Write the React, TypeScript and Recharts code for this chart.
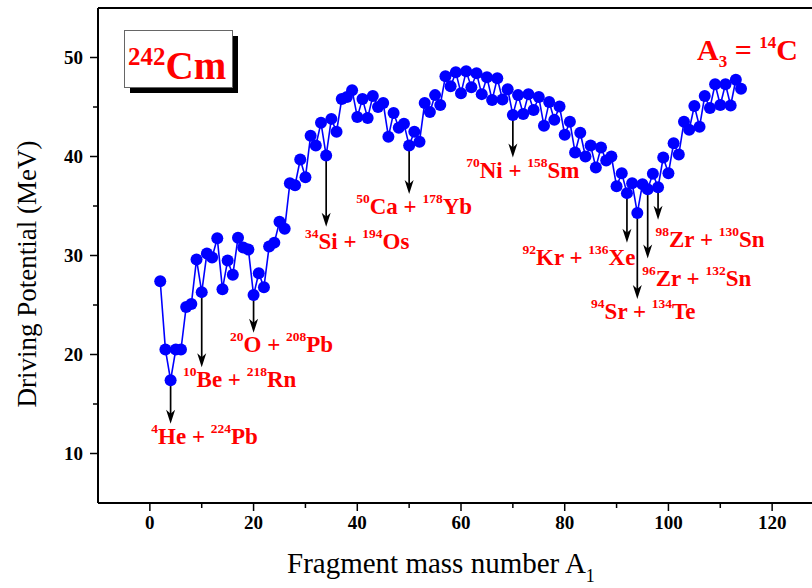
import { LineChart, Line, XAxis, YAxis, ReferenceLine } from 'recharts';

const SERIF = "'Liberation Serif', 'Times New Roman', serif";
const RED = '#ff0000';
const BLUE = '#0000ff';

// fragment mass number A1
const FRAGMENT_A = [
  2, 3, 4, 5, 6, 7, 8, 9, 10, 11, 12, 13, 14, 15, 16, 17, 18, 19, 20, 21,
  22, 23, 24, 25, 26, 27, 28, 29, 30, 31, 32, 33, 34, 35, 36, 37, 38, 39, 40, 41,
  42, 43, 44, 45, 46, 47, 48, 49, 50, 51, 52, 53, 54, 55, 56, 57, 58, 59, 60, 61,
  62, 63, 64, 65, 66, 67, 68, 69, 70, 71, 72, 73, 74, 75, 76, 77, 78, 79, 80, 81,
  82, 83, 84, 85, 86, 87, 88, 89, 90, 91, 92, 93, 94, 95, 96, 97, 98, 99, 100, 101,
  102, 103, 104, 105, 106, 107, 108, 109, 110, 111, 112, 113, 114,
];

// driving potential, MeV
const DRIVING_POTENTIAL = [
  27.4, 20.5, 17.4, 20.5, 20.5, 24.8, 25.1, 29.6, 26.3, 30.2, 29.8, 31.75, 26.6, 29.5, 28.05, 31.8, 30.8, 30.6, 26.0, 28.2,
  26.8, 30.9, 31.3, 33.4, 32.7, 37.3, 37.1, 39.7, 37.9, 42.1, 41.1, 43.4, 40.1, 43.8, 42.5, 45.8, 46.0, 46.7, 44.0, 45.8,
  43.9, 46.1, 45.0, 45.4, 42.0, 44.4, 42.9, 43.3, 41.1, 42.5, 41.5, 45.4, 44.5, 46.2, 45.2, 48.1, 47.1, 48.5, 46.4, 48.6,
  47.0, 48.4, 46.3, 48.0, 45.7, 47.9, 45.75, 46.8, 44.2, 46.2, 44.3, 46.3, 44.7, 46.0, 43.1, 45.5, 43.7, 45.05, 42.2, 43.5,
  40.4, 42.4, 40.0, 41.1, 38.9, 40.9, 39.6, 40.0, 37.0, 38.3, 36.3, 37.3, 34.3, 37.2, 36.7, 38.25, 36.9, 39.9, 38.3, 41.35,
  40.2, 43.5, 42.7, 45.1, 43.0, 46.1, 44.9, 47.3, 45.2, 47.3, 45.15, 47.75, 46.85,
];

// marked cluster decay channels: light fragment, heavy partner, where the arrow ends
const CHANNEL_A1 = [4, 10, 20, 34, 50, 70, 92, 94, 96, 98];
const CHANNEL_LIGHT = [['4', 'He'], ['10', 'Be'], ['20', 'O'], ['34', 'Si'], ['50', 'Ca'], ['70', 'Ni'], ['92', 'Kr'], ['94', 'Sr'], ['96', 'Zr'], ['98', 'Zr']];
const CHANNEL_HEAVY = [['224', 'Pb'], ['218', 'Rn'], ['208', 'Pb'], ['194', 'Os'], ['178', 'Yb'], ['158', 'Sm'], ['136', 'Xe'], ['134', 'Te'], ['132', 'Sn'], ['130', 'Sn']];
const CHANNEL_ARROW_END = [13.0, 18.7, 22.2, 32.9, 36.2, 39.9, 31.3, 25.6, 29.7, 33.6];

// label placement relative to the arrow tip, px
const LABEL_OFFSET = [[34, 20], [38, 20], [28, 19], [31, 22], [5, 20], [10, 21], [-48, 22], [6, 20], [49, 28], [52, 27]];

const X_TICKS = [0, 10, 20, 30, 40, 50, 60, 70, 80, 90, 100, 110, 120];
const Y_TICKS = [10, 15, 20, 25, 30, 35, 40, 45, 50];

const data = FRAGMENT_A.map((a, i) => ({ a, v: DRIVING_POTENTIAL[i] }));

function XTick({ x, y, payload }: any) {
  const major = payload.value % 20 === 0;
  return (
    <g>
      <line x1={x} y1={y} x2={x} y2={y + (major ? 8 : 5)} stroke="#000" strokeWidth={1.5} />
      {major && (
        <text x={x} y={y + 26} textAnchor="middle" fontFamily={SERIF} fontWeight="bold" fontSize={19} fill="#000">
          {payload.value}
        </text>
      )}
    </g>
  );
}

function YTick({ x, y, payload }: any) {
  const major = payload.value % 10 === 0;
  return (
    <g>
      <line x1={x} y1={y} x2={x - (major ? 8 : 5)} y2={y} stroke="#000" strokeWidth={1.5} />
      {major && (
        <text x={x - 15} y={y + 6.5} textAnchor="end" fontFamily={SERIF} fontWeight="bold" fontSize={19} fill="#000">
          {payload.value}
        </text>
      )}
    </g>
  );
}

function ChannelArrow({ x1, y1, x2, y2, idx }: any) {
  const [dx, dy] = LABEL_OFFSET[idx];
  const [la, ls] = CHANNEL_LIGHT[idx];
  const [ha, hs] = CHANNEL_HEAVY[idx];
  return (
    <g>
      <line x1={x1} y1={y1} x2={x2} y2={y2 - 8} stroke="#000" strokeWidth={1.7} />
      <path d={`M${x2 - 4.5},${y2 - 14} L${x2},${y2} L${x2 + 4.5},${y2 - 14} L${x2},${y2 - 10} Z`} fill="#000" />
      <text x={x2 + dx} y={y2 + dy} textAnchor="middle" fontFamily={SERIF} fontWeight="bold" fill={RED}>
        <tspan fontSize={13.5} dy={-11}>{la}</tspan>
        <tspan fontSize={23} dy={11}>{ls} + </tspan>
        <tspan fontSize={13.5} dy={-11}>{ha}</tspan>
        <tspan fontSize={23} dy={11}>{hs}</tspan>
      </text>
    </g>
  );
}

export default function App() {
  return (
    <div style={{ position: 'fixed', left: 0, top: 0, width: 812, height: 588, overflow: 'hidden', background: '#fff' }}>
      <LineChart width={830} height={588} data={data} margin={{ top: 8, right: 6, bottom: 0, left: 0 }}>
        <XAxis
          type="number"
          dataKey="a"
          domain={[-10, 130]}
          ticks={X_TICKS}
          interval={0}
          height={85}
          tickSize={0}
          tickMargin={0}
          tickLine={false}
          axisLine={{ stroke: '#000', strokeWidth: 2 }}
          tick={<XTick />}
        />
        <YAxis
          type="number"
          domain={[5, 55]}
          ticks={Y_TICKS}
          interval={0}
          width={98}
          tickSize={0}
          tickMargin={0}
          tickLine={false}
          axisLine={{ stroke: '#000', strokeWidth: 2 }}
          tick={<YTick />}
        />
        <ReferenceLine y={55} stroke="#000" strokeWidth={2} />
        <Line
          type="linear"
          dataKey="v"
          stroke={BLUE}
          strokeWidth={1.6}
          dot={{ r: 6, fill: BLUE, stroke: 'none' }}
          isAnimationActive={false}
        />
        {CHANNEL_A1.map((a, i) => (
          <ReferenceLine
            key={a}
            segment={[
              { x: a, y: DRIVING_POTENTIAL[FRAGMENT_A.indexOf(a)] },
              { x: a, y: CHANNEL_ARROW_END[i] },
            ]}
            shape={(p: any) => <ChannelArrow {...p} idx={i} />}
          />
        ))}
      </LineChart>

      <svg width={812} height={588} style={{ position: 'absolute', left: 0, top: 0, pointerEvents: 'none' }}>
        {/* parent nucleus box */}
        <rect x={130} y={36} width={108} height={57} fill="#000" />
        <rect x={124.5} y={30.5} width={108} height={57} fill="#fff" stroke="#666" strokeWidth={1} />
        <text x={128} y={79} fontFamily={SERIF} fontWeight="bold" fill={RED}>
          <tspan fontSize={25} dy={-14}>242</tspan>
          <tspan fontSize={39} dy={14}>Cm</tspan>
        </text>

        <text x={697} y={60} fontFamily={SERIF} fontWeight="bold" fill={RED}>
          <tspan fontSize={30}>A</tspan>
          <tspan fontSize={17} dy={7}>3</tspan>
          <tspan fontSize={30} dy={-7}> = </tspan>
          <tspan fontSize={17} dy={-12}>14</tspan>
          <tspan fontSize={30} dy={12}>C</tspan>
        </text>

        <text x={287} y={573} fontFamily={SERIF} fontSize={29} fill="#000">
          Fragment mass number A<tspan fontSize={18} dy={9}>1</tspan>
        </text>

        <text
          x={0}
          y={0}
          transform="translate(36, 274) rotate(-90)"
          textAnchor="middle"
          fontFamily={SERIF}
          fontSize={27}
          fill="#000"
        >
          Driving Potential (MeV)
        </text>
      </svg>
    </div>
  );
}
